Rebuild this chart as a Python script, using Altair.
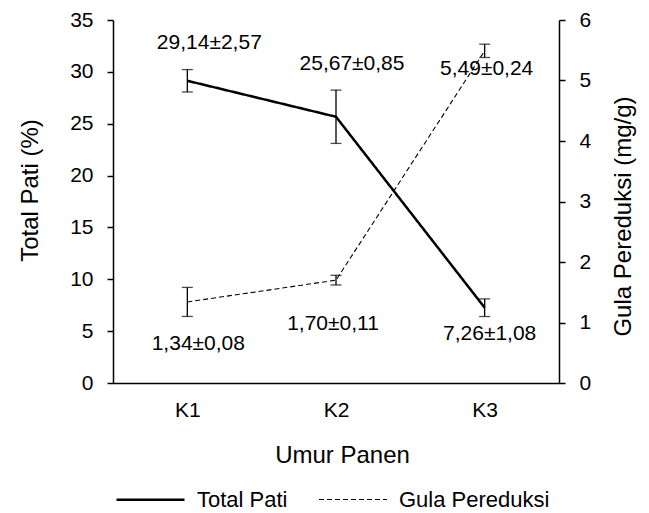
import altair as alt
import pandas as pd

categories = ["K1", "K2", "K3"]
series_names = ["Total Pati", "Gula Pereduksi"]

pati_values = [29.14, 25.67, 7.26]
pati_errors = [1.08, 2.57, 0.85]
pati_labels = ["29,14±2,57", "25,67±0,85", "7,26±1,08"]

gula_values = [1.34, 1.70, 5.49]
gula_errors = [0.24, 0.08, 0.11]
gula_labels = ["1,34±0,08", "1,70±0,11", "5,49±0,24"]

left_ticks = [0, 5, 10, 15, 20, 25, 30, 35]
right_ticks = [0, 1, 2, 3, 4, 5, 6]

# layout constants (label offsets in pixels)
pati_label_offsets = [(22, -32), (16, -47), (5, 32)]
gula_label_offsets = [(11, 48), (-3, 50), (2, 24)]

FONT = "Liberation Sans"
FS = 21
TFS = 24


def make_df(values, errors, labels, name):
    return pd.DataFrame({
        "cat": categories,
        "value": values,
        "lo": [v - e for v, e in zip(values, errors)],
        "hi": [v + e for v, e in zip(values, errors)],
        "label": labels,
        "series": name,
    })


pati_df = make_df(pati_values, pati_errors, pati_labels, series_names[0])
gula_df = make_df(gula_values, gula_errors, gula_labels, series_names[1])

x_enc = alt.X(
    "cat:N",
    sort=categories,
    scale=alt.Scale(type="point", padding=0.5),
    axis=alt.Axis(
        title="Umur Panen", labelAngle=0, ticks=False, tickSize=0,
        labelPadding=16, domainColor="black", domainWidth=1.5,
        titleX=229, titleY=72, titleBaseline="middle", titleAlign="center",
    ),
)

left_axis = alt.Axis(
    title="Total Pati  (%)", values=left_ticks, grid=False, orient="left",
    domainColor="black", domainWidth=1.5, tickColor="black", tickWidth=1.5,
    tickSize=6, labelPadding=14, titleAngle=270, titleX=-83, titleY=170,
    titleBaseline="middle", titleAlign="center",
)
right_axis = alt.Axis(
    title="Gula Pereduksi (mg/g)", values=right_ticks, grid=False, orient="right",
    domainColor="black", domainWidth=1.5, tickColor="black", tickWidth=1.5,
    tickSize=6, labelPadding=14, titleAngle=270, titleX=64, titleY=196,
    titleBaseline="middle", titleAlign="center",
)
left_scale = alt.Scale(domain=[0, 35], nice=False, zero=True)
right_scale = alt.Scale(domain=[0, 6], nice=False, zero=True)

legend = alt.Legend(
    title=None, orient="none", direction="horizontal", legendX=2, legendY=444,
    symbolType="stroke", symbolSize=4624, labelOffset=11, columnPadding=28,
    labelLimit=400, labelFontSize=22, labelFont=FONT, labelColor="black",
    padding=0,
)
color_enc = alt.Color("series:N", scale=alt.Scale(domain=series_names, range=["black", "black"]), legend=legend)
dash_enc = alt.StrokeDash("series:N", scale=alt.Scale(domain=series_names, range=[[1, 0], [5, 3]]), legend=legend)
width_enc = alt.StrokeWidth("series:N", scale=alt.Scale(domain=series_names, range=[2.5, 1.1]), legend=legend)


def build(df, scale, axis, offsets):
    base = alt.Chart(df)
    line = base.mark_line().encode(
        x=x_enc,
        y=alt.Y("value:Q", scale=scale, axis=axis),
        color=color_enc, strokeDash=dash_enc, strokeWidth=width_enc,
    )
    rule = base.mark_rule(color="black", strokeWidth=1.3).encode(
        x=x_enc, y=alt.Y("lo:Q", scale=scale, axis=axis), y2="hi:Q",
    )
    cap_lo = base.mark_tick(color="black", size=11, thickness=1.3).encode(
        x=x_enc, y=alt.Y("lo:Q", scale=scale, axis=axis),
    )
    cap_hi = base.mark_tick(color="black", size=11, thickness=1.3).encode(
        x=x_enc, y=alt.Y("hi:Q", scale=scale, axis=axis),
    )
    texts = []
    for i, (dx, dy) in enumerate(offsets):
        texts.append(
            alt.Chart(df.iloc[[i]]).mark_text(
                dx=dx, dy=dy, font=FONT, fontSize=FS, color="black",
                baseline="alphabetic", align="center",
            ).encode(
                x=x_enc, y=alt.Y("value:Q", scale=scale, axis=axis), text="label:N",
            )
        )
    return alt.layer(line, rule, cap_lo, cap_hi, *texts)


left = build(pati_df, left_scale, left_axis, pati_label_offsets)
right = build(gula_df, right_scale, right_axis, gula_label_offsets)

chart = alt.layer(left, right).resolve_scale(y="independent").properties(
    width=446, height=363,
    autosize=alt.AutoSizeParams(type="none"),
    padding={"left": 105, "top": 12, "right": 82, "bottom": 130},
).configure_view(stroke=None).configure_axis(
    labelFont=FONT, labelFontSize=FS, labelColor="black",
    titleFont=FONT, titleFontSize=TFS, titleColor="black", titleFontWeight="normal",
).configure_legend(labelFont=FONT)

chart.save("out.html", embed_options={"renderer": "svg", "actions": False})
